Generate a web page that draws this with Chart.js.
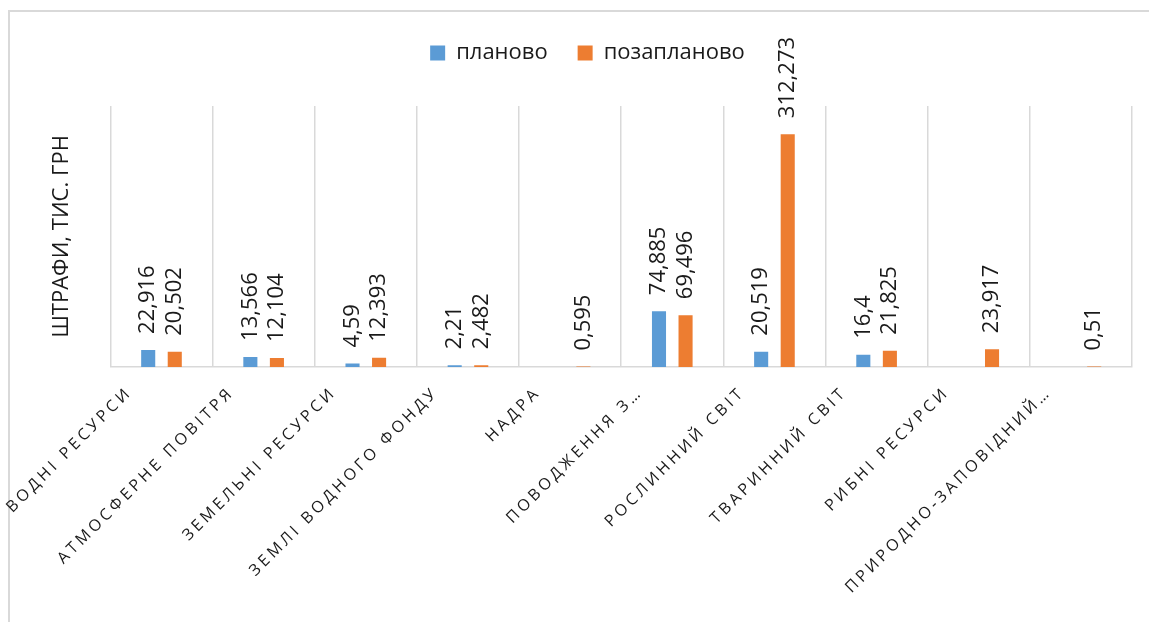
<!DOCTYPE html>
<html>
<head>
<meta charset="utf-8">
<script src="https://cdn.jsdelivr.net/npm/chart.js@4.4.1/dist/chart.umd.min.js"></script>
<style>
  html, body { margin: 0; padding: 0; background: #fff; overflow: hidden; }
  #frame { position: absolute; left: 8px; top: 10px; width: 1180px; height: 640px; border: 2px solid #d9d9d9; box-sizing: border-box; }
  #wrap { position: absolute; left: 0px; top: 12px; width: 1169px; height: 612px; }
</style>
</head>
<body>
<div id="frame"></div>
<div id="wrap"><canvas id="c"></canvas></div>
<script>
const categories = [
  "Водні ресурси",
  "Атмосферне повітря",
  "Земельні ресурси",
  "Землі водного фонду",
  "Надра",
  "Поводження з…",
  "Рослинний світ",
  "Тваринний світ",
  "Рибні ресурси",
  "Природно-заповідний…"
];
const seriesNames = ["планово", "позапланово"];
const planned   = [22.916, 13.566, 4.59, 2.21, null, 74.885, 20.519, 16.4, null, null];
const unplanned = [20.502, 12.104, 12.393, 2.482, 0.595, 69.496, 312.273, 21.825, 23.917, 0.51];
const yTitle = "ШТРАФИ, ТИС. ГРН";

const FONT = "'Open Sans', 'DejaVu Sans', sans-serif";

const valueLabels = {
  id: 'valueLabels',
  afterDatasetsDraw(chart) {
    const ctx = chart.ctx;
    ctx.save();
    ctx.font = "22px " + FONT;
    ctx.fillStyle = '#1a1a1a';
    ctx.textAlign = 'left';
    ctx.textBaseline = 'middle';
    chart.data.datasets.forEach((ds, di) => {
      const meta = chart.getDatasetMeta(di);
      meta.data.forEach((bar, i) => {
        const v = ds.data[i];
        if (v === null || v === undefined) return;
        const txt = String(v).replace('.', ',');
        ctx.save();
        ctx.translate(bar.x, bar.y - 16);
        ctx.rotate(-Math.PI / 2);
        ctx.fillText(txt, 0, 0);
        ctx.restore();
      });
    });
    ctx.restore();
  }
};

const layoutTweaks = {
  id: 'layoutTweaks',
  beforeLayout(chart) {
    const lg = chart.legend;
    if (lg && !lg._tallPatched) {
      const f = lg.fit;
      lg.fit = function() { f.call(this); this.height += 32; };
      lg._tallPatched = true;
    }
  },
  beforeDraw(chart) {
    const s = chart.scales.x;
    if (s && !s._spacedPatched) {
      const orig = s.drawLabels;
      s.drawLabels = function(area) {
        const c = this.ctx;
        c.save();
        c.letterSpacing = '3.5px';
        orig.call(this, area);
        c.restore();
      };
      s._spacedPatched = true;
    }
  }
};

new Chart(document.getElementById('c'), {
  type: 'bar',
  data: {
    labels: categories,
    datasets: [
      { label: seriesNames[0], data: planned, backgroundColor: '#5B9BD5', categoryPercentage: 0.52, barPercentage: 0.53 },
      { label: seriesNames[1], data: unplanned, backgroundColor: '#ED7D31', categoryPercentage: 0.52, barPercentage: 0.53 }
    ]
  },
  options: {
    responsive: true,
    maintainAspectRatio: false,
    animation: false,
    layout: { padding: { left: 43, right: 37, top: 0, bottom: 0 } },
    plugins: {
      legend: {
        position: 'top',
        labels: {
          boxWidth: 15, boxHeight: 15, padding: 30,
          color: '#1a1a1a',
          font: { size: 22, family: FONT }
        }
      },
      tooltip: { enabled: false }
    },
    scales: {
      x: {
        afterFit(scale) { scale.height = 257; },
        grid: { display: true, color: '#d9d9d9', lineWidth: 1.5, drawTicks: false, offset: true },
        border: { display: true, color: '#d9d9d9', width: 1.5 },
        ticks: {
          color: '#1a1a1a',
          minRotation: 45, maxRotation: 45,
          autoSkip: false,
          padding: 16,
          labelOffset: -32,
          callback: (value, index) => categories[index].toUpperCase(),
          font: { size: 16, family: FONT }
        }
      },
      y: {
        min: 0, max: 350,
        grid: { display: false },
        border: { display: false },
        ticks: { display: false },
        title: {
          display: true, text: yTitle, color: '#1a1a1a',
          font: { size: 22, family: FONT },
          padding: { top: 6, bottom: 27 }
        }
      }
    }
  },
  plugins: [valueLabels, layoutTweaks]
});
</script>
</body>
</html>
